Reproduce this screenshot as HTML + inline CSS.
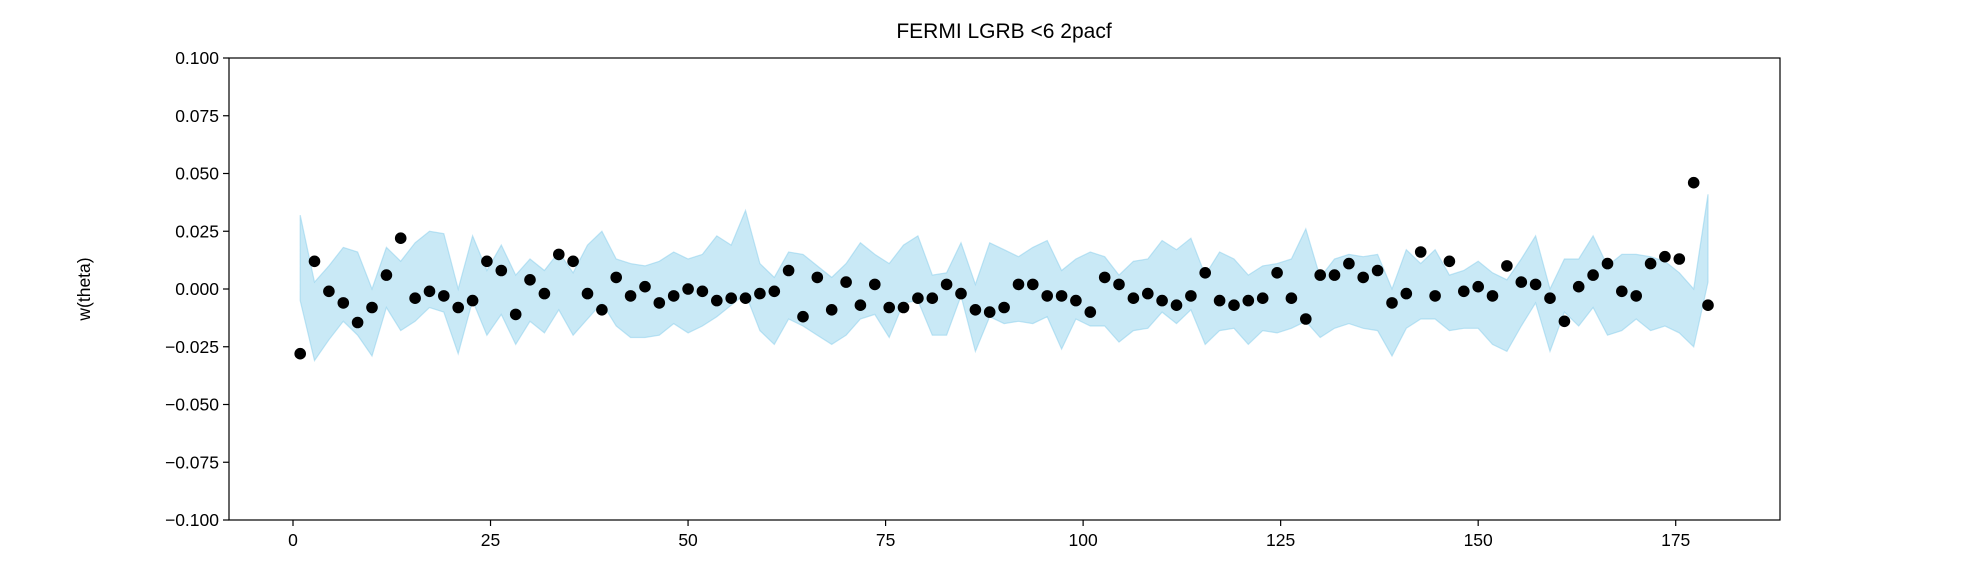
<!DOCTYPE html>
<html><head><meta charset="utf-8"><style>
body{margin:0;background:#fff;}
svg text{font-family:"Liberation Sans","DejaVu Sans",sans-serif;fill:#000;}
</style></head><body>
<svg id="chart" width="1964" height="576" viewBox="0 0 1964 576" xmlns="http://www.w3.org/2000/svg">
<rect width="1964" height="576" fill="#fff"/>
<text x="1004" y="38" font-size="21" text-anchor="middle">FERMI LGRB &lt;6 2pacf</text>
<text transform="translate(90,289) rotate(-90)" font-size="17.5" text-anchor="middle">w(theta)</text>
<g id="band"></g>
<g id="points"></g>
<g id="axes"></g>
</svg>
<script>
const wValues=[-0.028,0.012,-0.001,-0.006,-0.0145,-0.008,0.006,0.022,-0.004,-0.001,-0.003,-0.008,-0.005,0.012,0.008,-0.011,0.004,-0.002,0.015,0.012,-0.002,-0.009,0.005,-0.003,0.001,-0.006,-0.003,0.000,-0.001,-0.005,-0.004,-0.004,-0.002,-0.001,0.008,-0.012,0.005,-0.009,0.003,-0.007,0.002,-0.008,-0.008,-0.004,-0.004,0.002,-0.002,-0.009,-0.010,-0.008,0.002,0.002,-0.003,-0.003,-0.005,-0.010,0.005,0.002,-0.004,-0.002,-0.005,-0.007,-0.003,0.007,-0.005,-0.007,-0.005,-0.004,0.007,-0.004,-0.013,0.006,0.006,0.011,0.005,0.008,-0.006,-0.002,0.016,-0.003,0.012,-0.001,0.001,-0.003,0.010,0.003,0.002,-0.004,-0.014,0.001,0.006,0.011,-0.001,-0.003,0.011,0.014,0.013,0.046,-0.007];
const bandUpper=[0.032,0.003,0.010,0.018,0.016,0.000,0.018,0.012,0.020,0.025,0.024,0.000,0.023,0.008,0.019,0.006,0.013,0.008,0.016,0.007,0.019,0.025,0.013,0.011,0.010,0.012,0.016,0.013,0.015,0.023,0.019,0.034,0.011,0.005,0.016,0.015,0.010,0.005,0.011,0.020,0.015,0.011,0.019,0.023,0.006,0.007,0.020,0.002,0.020,0.017,0.014,0.018,0.021,0.008,0.013,0.016,0.014,0.006,0.012,0.013,0.021,0.017,0.022,0.006,0.016,0.013,0.006,0.010,0.011,0.013,0.026,0.005,0.013,0.015,0.014,0.015,0.000,0.017,0.011,0.017,0.006,0.008,0.012,0.007,0.004,0.013,0.023,0.000,0.013,0.013,0.023,0.010,0.015,0.015,0.014,0.012,0.007,0.000,0.041];
const bandLower=[-0.005,-0.031,-0.022,-0.014,-0.020,-0.029,-0.008,-0.018,-0.014,-0.008,-0.010,-0.028,-0.005,-0.020,-0.011,-0.024,-0.014,-0.019,-0.009,-0.020,-0.013,-0.006,-0.016,-0.021,-0.021,-0.020,-0.015,-0.019,-0.016,-0.012,-0.007,-0.002,-0.018,-0.024,-0.013,-0.016,-0.020,-0.024,-0.020,-0.013,-0.011,-0.021,-0.006,-0.005,-0.020,-0.020,-0.003,-0.027,-0.012,-0.015,-0.014,-0.015,-0.012,-0.026,-0.013,-0.016,-0.016,-0.023,-0.018,-0.017,-0.010,-0.015,-0.009,-0.024,-0.018,-0.017,-0.024,-0.018,-0.019,-0.017,-0.014,-0.021,-0.017,-0.015,-0.017,-0.018,-0.029,-0.017,-0.013,-0.013,-0.018,-0.017,-0.017,-0.024,-0.027,-0.016,-0.006,-0.027,-0.010,-0.016,-0.008,-0.020,-0.018,-0.013,-0.018,-0.016,-0.019,-0.025,0.003];
const xTicks=[0,25,50,75,100,125,150,175];
const yTicks=[0.100,0.075,0.050,0.025,0.000,-0.025,-0.050,-0.075,-0.100];
const yTickLabels=["0.100","0.075","0.050","0.025","0.000","\u22120.025","\u22120.050","\u22120.075","\u22120.100"];

const L=229,R=1780,T=58,B=520;
const xMin=-8.1,xMax=188.2,yMin=-0.1,yMax=0.1;
function sx(v){return L+(v-xMin)/(xMax-xMin)*(R-L);}
function sy(v){return B-(v-yMin)/(yMax-yMin)*(B-T);}
const NS="http://www.w3.org/2000/svg";
function mk(tag,attrs,parent){const e=document.createElementNS(NS,tag);for(const k in attrs)e.setAttribute(k,attrs[k]);parent.appendChild(e);return e;}
const n=wValues.length;
const thetas=wValues.map((_,i)=>(i+0.5)*180/n);

const band=document.getElementById('band');
let d='';
thetas.forEach((t,i)=>{d+=(i?'L':'M')+sx(t).toFixed(1)+','+sy(bandUpper[i]).toFixed(1);});
for(let i=n-1;i>=0;i--)d+='L'+sx(thetas[i]).toFixed(1)+','+sy(bandLower[i]).toFixed(1);
d+='Z';
const bp=mk('path',{d:d,fill:'#87ceeb','fill-opacity':'0.45',stroke:'#87ceeb','stroke-opacity':'0.5','stroke-width':'1.2'},band);



const pts=document.getElementById('points');
thetas.forEach((t,i)=>{
  const c=mk('circle',{cx:sx(t).toFixed(1),cy:sy(wValues[i]).toFixed(1),r:'5.8',fill:'#000'},pts);
  
  
});

const ax=document.getElementById('axes');
const fr=mk('rect',{x:L,y:T,width:R-L,height:B-T,fill:'none',stroke:'#000','stroke-width':'1.2'},ax);


xTicks.forEach(v=>{
  const x=sx(v);
  const tk=mk('line',{x1:x,x2:x,y1:B,y2:B+6,stroke:'#000','stroke-width':'1.2'},ax);
  
  
  const tx=mk('text',{x:x,y:B+26,'font-size':'17.5','text-anchor':'middle'},ax);
  tx.textContent=String(v);
  
  
});
yTicks.forEach((v,i)=>{
  const y=sy(v);
  const tk=mk('line',{x1:L-6,x2:L,y1:y,y2:y,stroke:'#000','stroke-width':'1.2'},ax);
  
  
  const tx=mk('text',{x:L-10,y:y+6,'font-size':'17.5','text-anchor':'end'},ax);
  tx.textContent=yTickLabels[i];
  
  
});
</script>
</body></html>
